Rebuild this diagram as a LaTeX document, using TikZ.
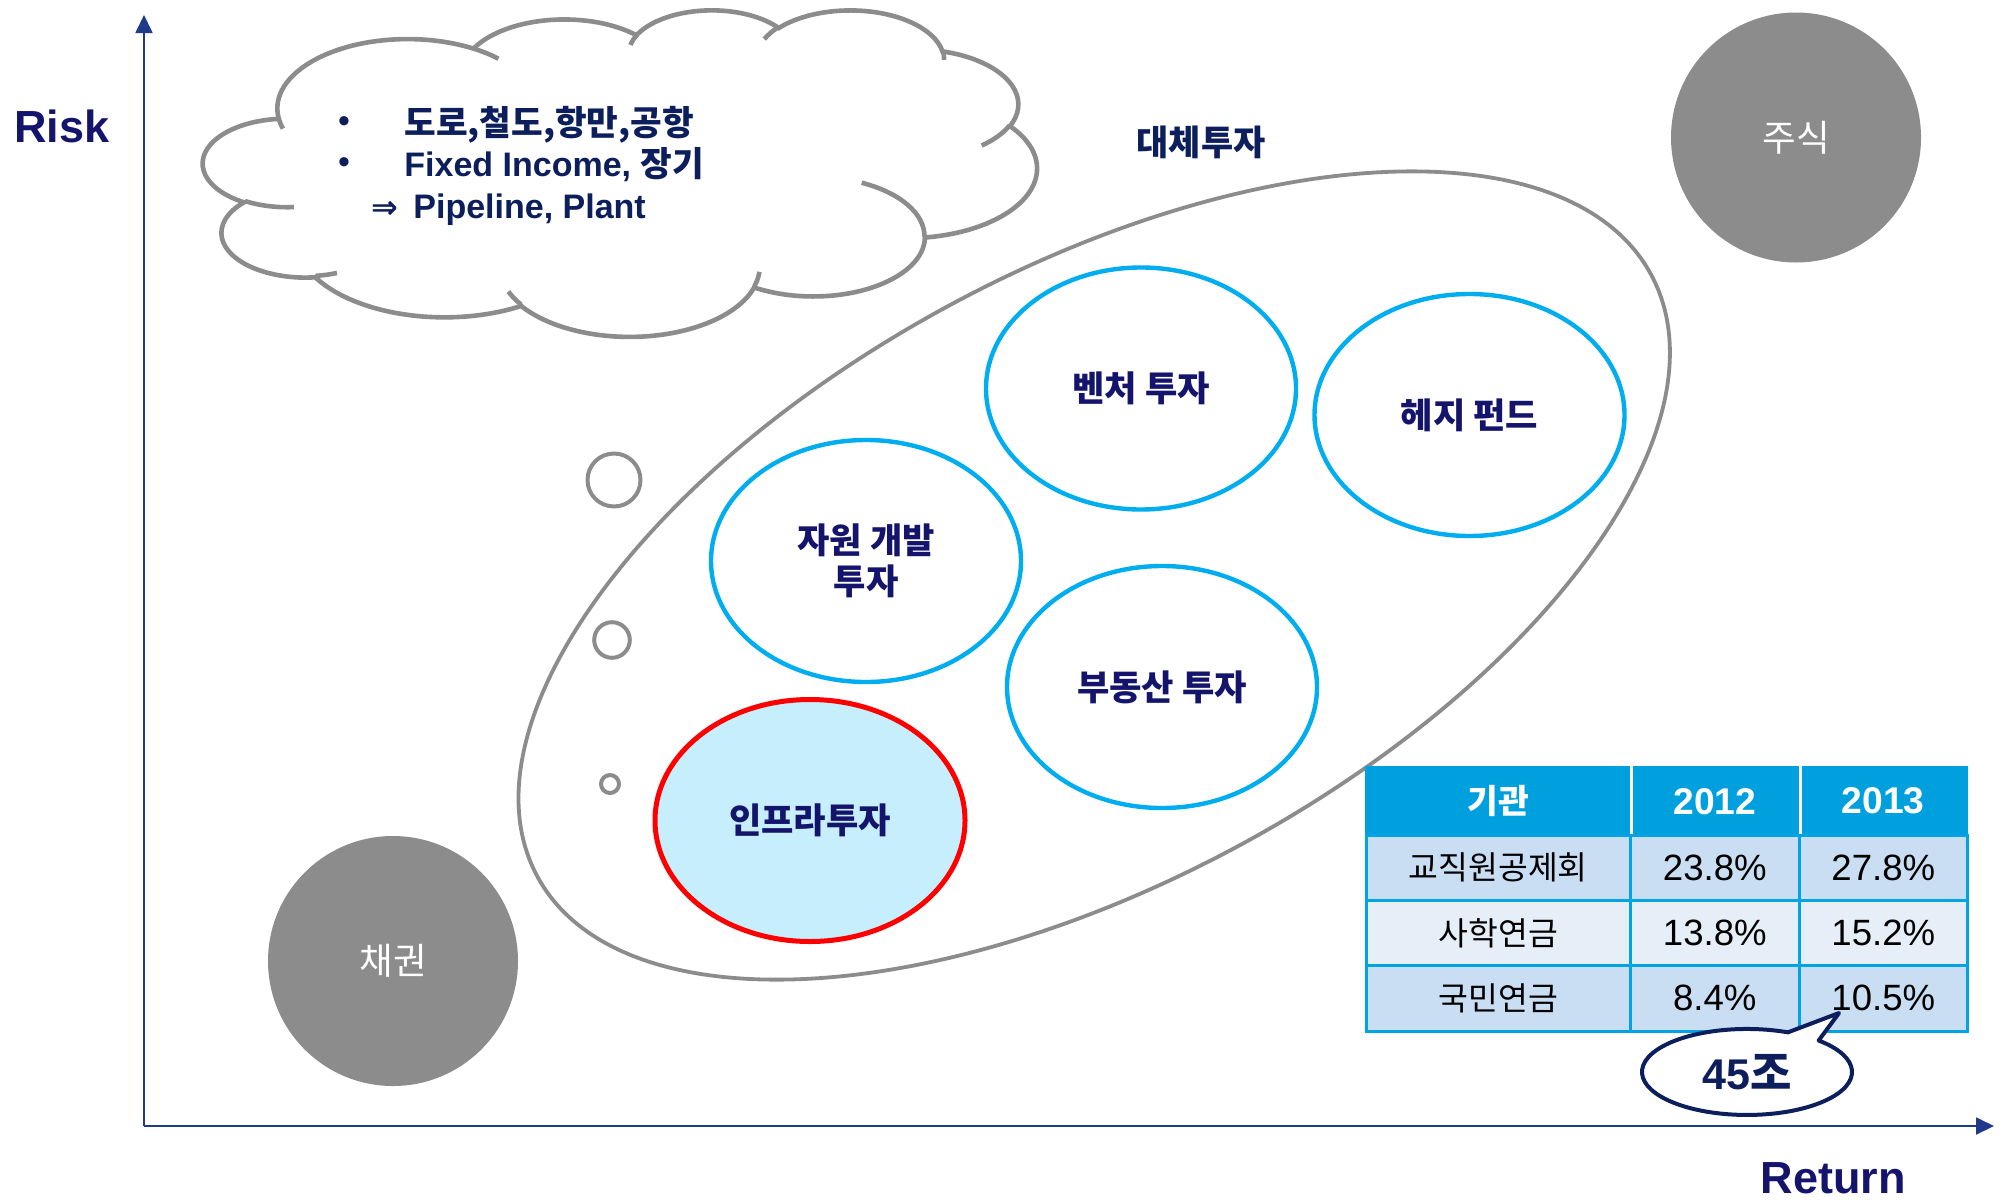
\documentclass[tikz,border=0pt]{standalone}
\usepackage{fontspec}
\setmainfont{Liberation Sans}
\newfontfamily\kr{Noto Sans CJK KR}
\newfontfamily\dvs{DejaVu Sans}
\usetikzlibrary{shapes.geometric,arrows.meta}
\definecolor{navyA}{HTML}{14146C}
\definecolor{navyB}{HTML}{0C1E5C}
\definecolor{axisC}{HTML}{1F3A88}
\definecolor{grayC}{HTML}{8C8C8C}
\definecolor{cyanB}{HTML}{00AEEF}
\definecolor{infraF}{HTML}{C6EEFC}
\definecolor{headC}{HTML}{00A0DF}
\definecolor{rowA}{HTML}{C9DEF2}
\definecolor{rowB}{HTML}{E6EEF8}
\definecolor{tblB}{HTML}{00A3E3}
% cloud arc builder (PowerPoint cloud geometry, path units /100)
\newcommand\mkarc[5]{%
  \pgfmathsetmacro\mkta{atan2((#2)*sin(#4),(#3)*cos(#4))}%
  \pgfmathsetmacro\mktb{atan2((#2)*sin((#4)+(#5)),(#3)*cos((#4)+(#5)))}%
  \pgfmathsetmacro\mktd{\mktb-(\mkta)}%
  \pgfmathsetmacro\mktd{ifthenelse(\mktd<0,\mktd+360,\mktd)}%
  \pgfmathsetmacro\mksa{-(\mkta)}%
  \pgfmathsetmacro\mksd{-(\mktd)}%
  \pgfmathsetmacro\mkrx{(#2)*0.964583}%
  \pgfmathsetmacro\mkry{(#3)*0.377778}%
  \expandafter\xdef\csname #1\endcsname{arc[start angle=\mksa, delta angle=\mksd, x radius=\mkrx pt, y radius=\mkry pt]}%
}
\mkarc{cldA}{67.53}{91.90}{-190.4875}{123.7805}
\mkarc{cldB}{53.33}{72.67}{-144.1024}{89.9452}
\mkarc{cldC}{43.65}{59.45}{-145.8079}{99.7230}
\mkarc{cldD}{48.57}{65.95}{-130.9861}{117.2417}
\mkarc{cldE}{53.33}{72.73}{-78.7089}{109.0269}
\mkarc{cldF}{67.75}{92.20}{-46.2673}{130.2690}
\mkarc{cldG}{57.85}{78.67}{0.6250}{114.0333}
\mkarc{cldH}{67.52}{92.15}{22.4516}{115.1726}
\mkarc{cldI}{77.20}{105.43}{66.2426}{75.7110}
\mkarc{cldJ}{43.60}{59.18}{-274.9421}{146.7356}
\mkarc{cldK}{43.45}{59.45}{-246.8285}{152.5189}
\mkarc{inA}{43.45}{59.45}{86.7420}{26.4295}
\mkarc{inB}{43.60}{59.18}{73.6105}{11.4475}
\mkarc{inC}{67.52}{92.15}{137.6242}{14.0811}
\mkarc{inD}{67.52}{92.15}{6.4533}{15.9984}
\mkarc{inE}{57.85}{78.67}{-70.2924}{70.9174}
\mkarc{inF}{53.33}{72.73}{30.3180}{27.7515}
\mkarc{inG}{48.57}{65.95}{-13.7443}{14.8589}
\mkarc{inH}{48.57}{65.95}{-149.1815}{18.1954}
\mkarc{inI}{43.65}{59.45}{-163.4943}{17.6864}
\mkarc{inJ}{67.53}{91.90}{-66.7070}{12.3194}
\mkarc{inK}{67.53}{91.90}{157.6544}{11.8582}
\newcommand\tk{\kr\fontsize{16.2}{19}\selectfont}
\tikzset{
  axisline/.style={draw=axisC, line width=0.9pt, -{Triangle[length=9pt,width=8.5pt]}},
  axlabel/.style={text=navyA, font=\bfseries\fontsize{22.5}{26}\selectfont, inner sep=0pt},
  bigov/.style={ellipse, draw=grayC, line width=1.9pt, minimum width=633pt, minimum height=306.5pt, inner sep=0pt},
  toplbl/.style={text=navyB, font=\kr\bfseries\fontsize{17.5}{20}\selectfont, inner sep=0pt},
  grayball/.style={circle, fill=grayC, minimum size=125pt, inner sep=0pt, text=white, font=\kr\fontsize{18.3}{21}\selectfont},
  blueov/.style={ellipse, draw=cyanB, fill=white, line width=2.2pt, minimum width=155pt, minimum height=121pt, inner sep=0pt, text=navyA, font=\kr\bfseries\fontsize{17.6}{20.5}\selectfont},
  bubble/.style={circle, draw=grayC, fill=white, line width=2pt, inner sep=0pt},
  cloudline/.style={draw=grayC, line width=2.3pt},
  cloudtxt/.style={text=navyB, font=\bfseries\fontsize{17}{20}\selectfont, inner sep=0pt, anchor=base west},
  hcell/.style={rectangle, anchor=north west, fill=headC, draw=headC, line width=1.2pt, inner sep=0pt, text=white, font=\bfseries\fontsize{18.6}{22}\selectfont},
  bcell/.style={rectangle, anchor=north west, draw=tblB, line width=1.3pt, inner sep=0pt, text=black, font=\fontsize{18.3}{22}\selectfont},
  callout/.style={draw=navyB, fill=white, line width=2pt, line join=round},
}
\begin{document}
\begin{tikzpicture}[x=0.5pt,y=-0.5pt]
\useasboundingbox (0,0) rectangle (2005,1199);
\fill[white] (0,0) rectangle (2005,1199);

% axes
\coordinate (O) at (144,1126);
\coordinate (Ytip) at (144,15);
\coordinate (Xtip) at (1994,1126);
\draw[axisline] (O) -- (Ytip);
\draw[axisline] (O) -- (Xtip);
\node[axlabel] (risk) at (62,126) {Risk};
\node[axlabel] (ret) at (1833,1178) {Return};

% alternative investment ellipse
\node[bigov, rotate=28.4] (alt) at (1094.2,575.5) {};
\node[toplbl] (altl) at (1201,142.5) {대체투자};

% stocks and bonds
\node[grayball] (stock) at (1796,137.5) {주식};
\node[grayball] (bond) at (393,961) {채권};

% inner ellipses
\node[blueov] (venture) at (1141,388.5) {벤처 투자};
\node[blueov] (hedge) at (1469.5,415) {헤지 펀드};
\node[blueov, align=center] (resource) at (866,561) {자원 개발\\투자};
\node[blueov] (realty) at (1162,687) {부동산 투자};
\node[blueov, draw=red, fill=infraF, line width=2.5pt] (infra) at (810,820.5) {인프라투자};

% thought bubbles
\node[bubble, minimum size=26.5pt] (tb1) at (614,480) {};
\node[bubble, minimum size=17.8pt] (tb2) at (612,640) {};
\node[bubble, minimum size=9pt] (tb3) at (610,784) {};

% cloud
\begin{scope}[shift={(203.3,9.3)}, x=0.964583pt, y=-0.377778pt]
  \filldraw[cloudline, fill=white] (39.00,143.70) \cldA \cldB \cldC \cldD \cldE \cldF \cldG \cldH \cldI \cldJ \cldK -- cycle;
  \draw[cloudline] (46.93,261.77) \inA (69.28,348.99) \inB (164.78,390.90) \inC
    (288.27,347.51) \inD (341.29,229.54) \inE (417.98,153.54) \inF
    (383.24,54.26) \inG (290.78,39.52) \inH (221.41,47.20) \inI
    (140.00,51.92) \inJ (41.27,157.89) \inK;
\end{scope}

% cloud text
\node[text=navyB, font=\fontsize{17}{18}\selectfont, inner sep=0pt] (bul1) at (344,125) {•};
\node[text=navyB, font=\fontsize{17}{18}\selectfont, inner sep=0pt] (bul2) at (344,166) {•};
\node[cloudtxt] (ct1) at (404,135) {{\kr\fontsize{17.2}{20}\selectfont 도로,철도,항만,공항}};
\node[cloudtxt] (ct2) at (404,176.7) {Fixed Income, {\kr\fontsize{17.2}{20}\selectfont 장기}};
\node[text=navyB, font=\dvs\bfseries\fontsize{16}{18}\selectfont, inner sep=0pt] (arr) at (385,210) {⇒};
\node[cloudtxt] (ct3) at (413,218.3) {Pipeline, Plant};

% table
\node[hcell, minimum width=132pt, minimum height=34pt] (h1) at (1365,766) {{\kr\bfseries\fontsize{16.7}{19}\selectfont 기관}};
\node[hcell, minimum width=84.5pt, minimum height=34pt] (h2) at (1629,766) {2012};
\node[hcell, minimum width=84pt, minimum height=34pt] (h3) at (1798,766) {2013};
\draw[white, line width=1.5pt] (h1.north east) -- (h1.south east);
\draw[white, line width=1.5pt] (h2.north east) -- (h2.south east);

\node[bcell, fill=rowA, minimum width=132pt, minimum height=32.5pt] (r1c1) at (1365,834) {\tk 교직원공제회};
\node[bcell, fill=rowA, minimum width=84.5pt, minimum height=32.5pt] (r1c2) at (1629,834) {23.8\%};
\node[bcell, fill=rowA, minimum width=84pt, minimum height=32.5pt] (r1c3) at (1798,834) {27.8\%};
\node[bcell, fill=rowB, minimum width=132pt, minimum height=32.5pt] (r2c1) at (1365,899) {\tk 사학연금};
\node[bcell, fill=rowB, minimum width=84.5pt, minimum height=32.5pt] (r2c2) at (1629,899) {13.8\%};
\node[bcell, fill=rowB, minimum width=84pt, minimum height=32.5pt] (r2c3) at (1798,899) {15.2\%};
\node[bcell, fill=rowA, minimum width=132pt, minimum height=33pt] (r3c1) at (1365,964) {\tk 국민연금};
\node[bcell, fill=rowA, minimum width=84.5pt, minimum height=33pt] (r3c2) at (1629,964) {8.4\%};
\node[bcell, fill=rowA, minimum width=84pt, minimum height=33pt] (r3c3) at (1798,964) {10.5\%};

% callout
\coordinate (cc) at (1747,1072);
\coordinate (cstart) at (1818.6,1040.5);
\coordinate (ctip) at (1839,1013);
\draw[callout] (cstart) arc[start angle=47, end angle=-292.9, x radius=52.5pt, y radius=21.5pt] -- (ctip) -- cycle;
\node[text=navyB, font=\bfseries\fontsize{21.5}{24}\selectfont, inner sep=0pt] (c45) at (cc) {45{\kr\fontsize{22.5}{24}\selectfont 조}};
\end{tikzpicture}
\end{document}
